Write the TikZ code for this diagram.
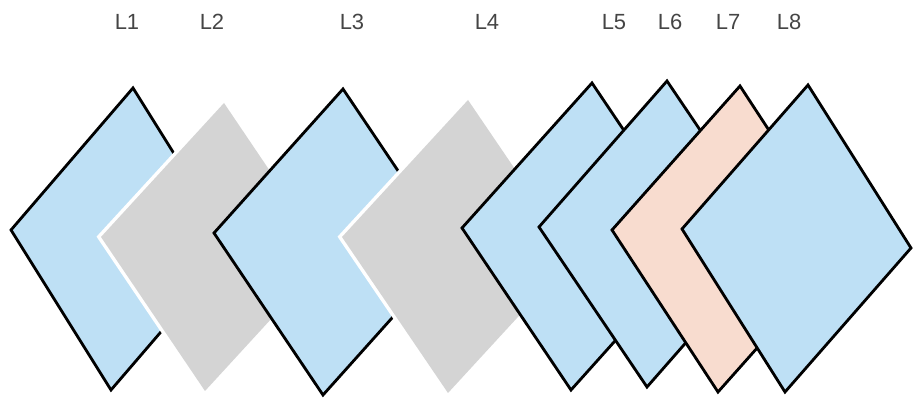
\documentclass[tikz,border=0pt]{standalone}
\usepackage{fontspec}
\setmainfont{Liberation Sans}
\usepackage{xcolor}
\usepackage{tikz}

\definecolor{layerblue}{HTML}{BEE0F5}
\definecolor{layergrey}{HTML}{D4D4D4}
\definecolor{layerpink}{HTML}{F8DCCF}
\definecolor{labelgrey}{HTML}{454545}

\begin{document}
\begin{tikzpicture}[x=0.02cm,y=-0.02cm,
    bluelayer/.style={fill=layerblue,draw=black,line width=1.6pt},
    pinklayer/.style={fill=layerpink,draw=black,line width=1.6pt},
    greylayer/.style={fill=layergrey,preaction={draw=white,line width=4pt}},
    tag/.style={text=labelgrey,font=\fontsize{12.5}{14}\selectfont}]
    \useasboundingbox (0,0) rectangle (914,404);
    % layers, back to front: style/top/left/bottom corner
    \foreach \sty/\tx/\ty/\lx/\ly/\bx/\by in {
      bluelayer/133/88/11/230/111/390,
      greylayer/224/103/101/237/205/391,
      bluelayer/343/89/214/233/323/395,
      greylayer/468/100/342/237/448/393,
      bluelayer/592/83/462/228/571/390,
      bluelayer/667/81/539/227/647/387,
      pinklayer/740/86/612/230/718/392,
      bluelayer/808/85/682/229/785/392} {
      \path[\sty] (\tx,\ty) -- (\lx,\ly) -- (\bx,\by) -- ++(\tx-\lx,\ty-\ly) -- cycle;
    }
    \foreach \name/\x in {1/127,2/212,3/352,4/487,5/614,6/670,7/728,8/789} {
      \node[tag] (lab\name) at (\x,22) {L\name};
    }
\end{tikzpicture}
\end{document}
